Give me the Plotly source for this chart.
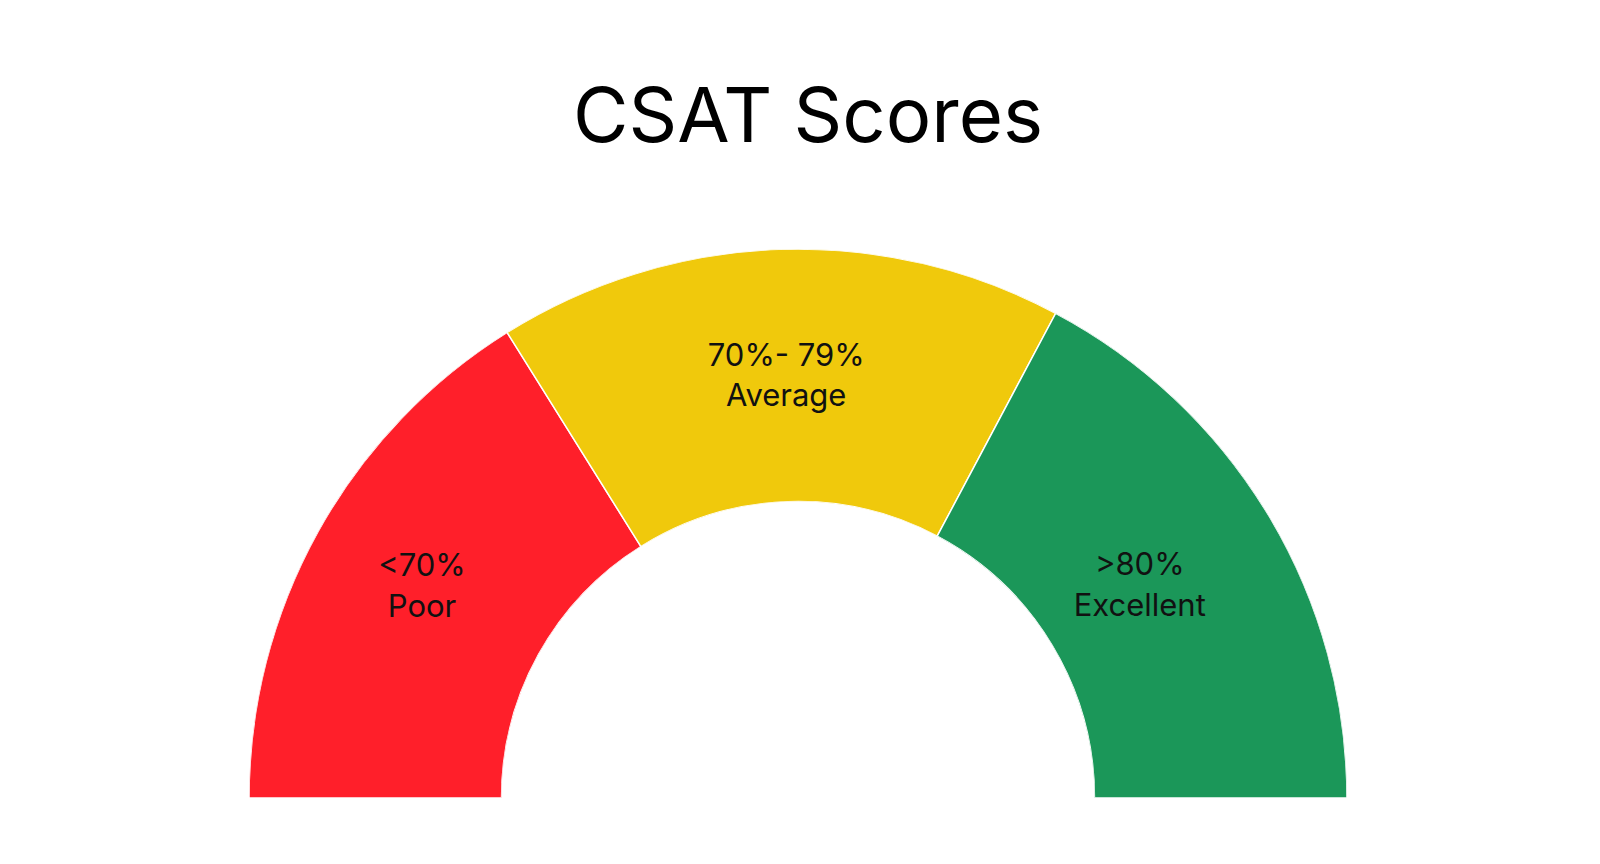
import plotly.graph_objects as go

# segment data
categories = ["Poor", "Average", "Excellent"]
ranges = ["<70%", "70%- 79%", ">80%"]
spans = [58, 60, 62]          # degrees of the half circle each band takes
colors = ["#FF1F2A", "#F0C90C", "#1B9759"]

# where the labels sit inside the bands (radius 0..1 across the band)
label_r = [0.53, 0.49, 0.415]
label_theta = [150.9, 91.6, 31.6]

# band centres, starting at the left end (180 deg) going clockwise
thetas = []
start = 180
for s in spans:
    thetas.append(start - s / 2)
    start -= s

labels = [f"{r}<br>{c}" for r, c in zip(ranges, categories)]

fig = go.Figure()

fig.add_trace(go.Barpolar(
    r=[1] * len(spans),
    theta=thetas,
    width=spans,
    marker_color=colors,
    marker_line_color="white",
    marker_line_width=1.5,
    hoverinfo="skip",
))

fig.add_trace(go.Scatterpolar(
    r=label_r,
    theta=label_theta,
    mode="text",
    text=labels,
    textfont=dict(size=31, color="#111111", family="Inter"),
    hoverinfo="skip",
))

fig.update_layout(
    width=1600,
    height=864,
    margin=dict(l=0, r=0, t=0, b=0),
    paper_bgcolor="white",
    showlegend=False,
    font=dict(family="Inter"),
    title=dict(
        text="CSAT Scores",
        x=0.5,
        xanchor="center",
        y=0.876,
        yanchor="middle",
        yref="container",
        font=dict(size=76, color="black", family="Inter"),
    ),
    polar=dict(
        domain=dict(x=[0.1506, 0.8369], y=[0.0857, 0.7211]),
        sector=[0, 180],
        hole=0.54,
        bgcolor="white",
        radialaxis=dict(range=[0, 1], visible=False, showgrid=False),
        angularaxis=dict(
            visible=False,
            showgrid=False,
            showline=False,
            ticks="",
            showticklabels=False,
            direction="counterclockwise",
            rotation=0,
        ),
    ),
)

fig.write_html("out.html")
